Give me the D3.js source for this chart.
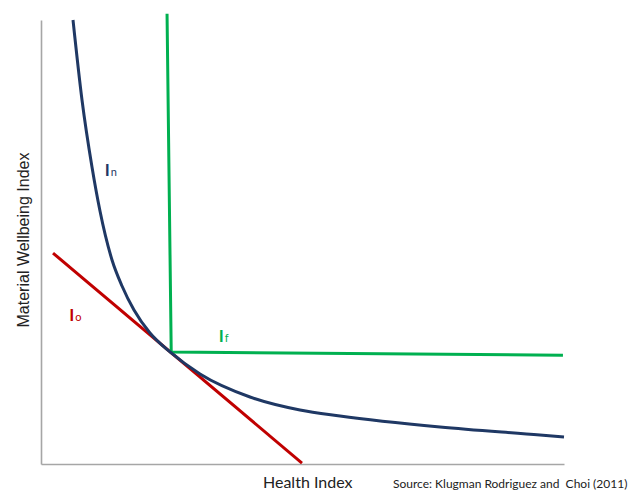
<!DOCTYPE html>
<html>
<head>
<meta charset="utf-8">
<script src="https://cdn.jsdelivr.net/npm/d3@7"></script>
<style>
  body { margin: 0; background: #fff; }
</style>
</head>
<body>
<div id="chart"></div>
<script>
// Points (index units, 0-100 on both axes)
var naturalX = [6.12, 7.84, 9.75, 11.28, 13.58, 15.49, 17.78, 20.84, 24.67, 30.40, 39.96, 49.52, 57.17, 76.29, 95.41, 100];
var naturalY = [100, 81.98, 66.89, 56.98, 45.95, 40.09, 34.68, 29.50, 25.23, 20.27, 15.09, 12.16, 10.81, 8.33, 6.53, 6.08];
var ordinalX = [2.3, 49.9];
var ordinalY = [47.5, 0.2];
var fixedX = [24.1, 24.9, 99.8];
var fixedY = [101.4, 25.2, 24.5];

var labels = [
  {main: "I", sub: "n", x: 12.2, y: 64.9, color: "#1f3864"},
  {main: "I", sub: "o", x: 5.4, y: 32.2, color: "#c00000"},
  {main: "I", sub: "f", x: 34.0, y: 27.5, color: "#00b050"}
];

var width = 639, height = 491;
var margin = {top: 20, right: 75, bottom: 27, left: 41};
var plotW = width - margin.left - margin.right;
var plotH = height - margin.top - margin.bottom;

var svg = d3.select("#chart").append("svg")
  .attr("width", width)
  .attr("height", height)
  .append("g")
  .attr("transform", "translate(" + margin.left + "," + margin.top + ")");

var x = d3.scaleLinear().domain([0, 100]).range([0, plotW]);
var y = d3.scaleLinear().domain([0, 100]).range([plotH, 0]);

function zipPts(xs, ys) {
  return xs.map(function(v, i) { return [v, ys[i]]; });
}

// axes: plain grey lines, no ticks
svg.append("g")
  .attr("transform", "translate(0," + plotH + ")")
  .call(d3.axisBottom(x).ticks(0).tickSize(0).tickFormat(""))
  .call(function(g) { g.select(".domain").attr("stroke", "#a6a6a6").attr("stroke-width", 1.6); });

svg.append("g")
  .call(d3.axisLeft(y).ticks(0).tickSize(0).tickFormat(""))
  .call(function(g) { g.select(".domain").attr("stroke", "#a6a6a6").attr("stroke-width", 1.6); });

var smooth = d3.line()
  .curve(d3.curveMonotoneX)
  .x(function(d) { return x(d[0]); })
  .y(function(d) { return y(d[1]); });

var straight = d3.line()
  .x(function(d) { return x(d[0]); })
  .y(function(d) { return y(d[1]); });

// Io - red tangent
svg.append("path")
  .datum(zipPts(ordinalX, ordinalY))
  .attr("fill", "none")
  .attr("stroke", "#c00000")
  .attr("stroke-width", 3)
  .attr("d", straight);

// If - green L shape
svg.append("path")
  .datum(zipPts(fixedX, fixedY))
  .attr("fill", "none")
  .attr("stroke", "#00b050")
  .attr("stroke-width", 3)
  .attr("d", straight);

// In - navy curve
svg.append("path")
  .datum(zipPts(naturalX, naturalY))
  .attr("fill", "none")
  .attr("stroke", "#1f3864")
  .attr("stroke-width", 3)
  .attr("d", smooth);

// curve labels
labels.forEach(function(l) {
  var t = svg.append("text")
    .attr("x", x(l.x))
    .attr("y", y(l.y))
    .attr("fill", l.color)
    .style("font-family", "Lato, 'Open Sans', sans-serif")
    .style("font-weight", "bold")
    .style("font-size", "17px");
  t.append("tspan").text(l.main);
  t.append("tspan").attr("dx", 1).style("font-size", "11px").style("font-weight", "normal").text(l.sub);
});

// axis titles
svg.append("text")
  .attr("transform", "translate(-12," + (plotH / 2 - 2) + ") rotate(-90)")
  .attr("text-anchor", "middle")
  .style("font-family", "'Liberation Sans', Arial, sans-serif")
  .style("font-size", "16px")
  .attr("fill", "#222")
  .text("Material Wellbeing Index");

svg.append("text")
  .attr("x", 222)
  .attr("y", plotH + 24)
  .style("font-family", "Lato, 'Open Sans', sans-serif")
  .style("font-size", "16px")
  .attr("fill", "#222")
  .text("Health Index");

svg.append("text")
  .attr("x", 352)
  .attr("y", plotH + 24)
  .style("font-family", "Lato, 'Open Sans', sans-serif")
  .style("font-size", "12px")
  .style("white-space", "pre")
  .attr("fill", "#222")
  .text("Source: Klugman Rodriguez and  Choi (2011)");
</script>
</body>
</html>
